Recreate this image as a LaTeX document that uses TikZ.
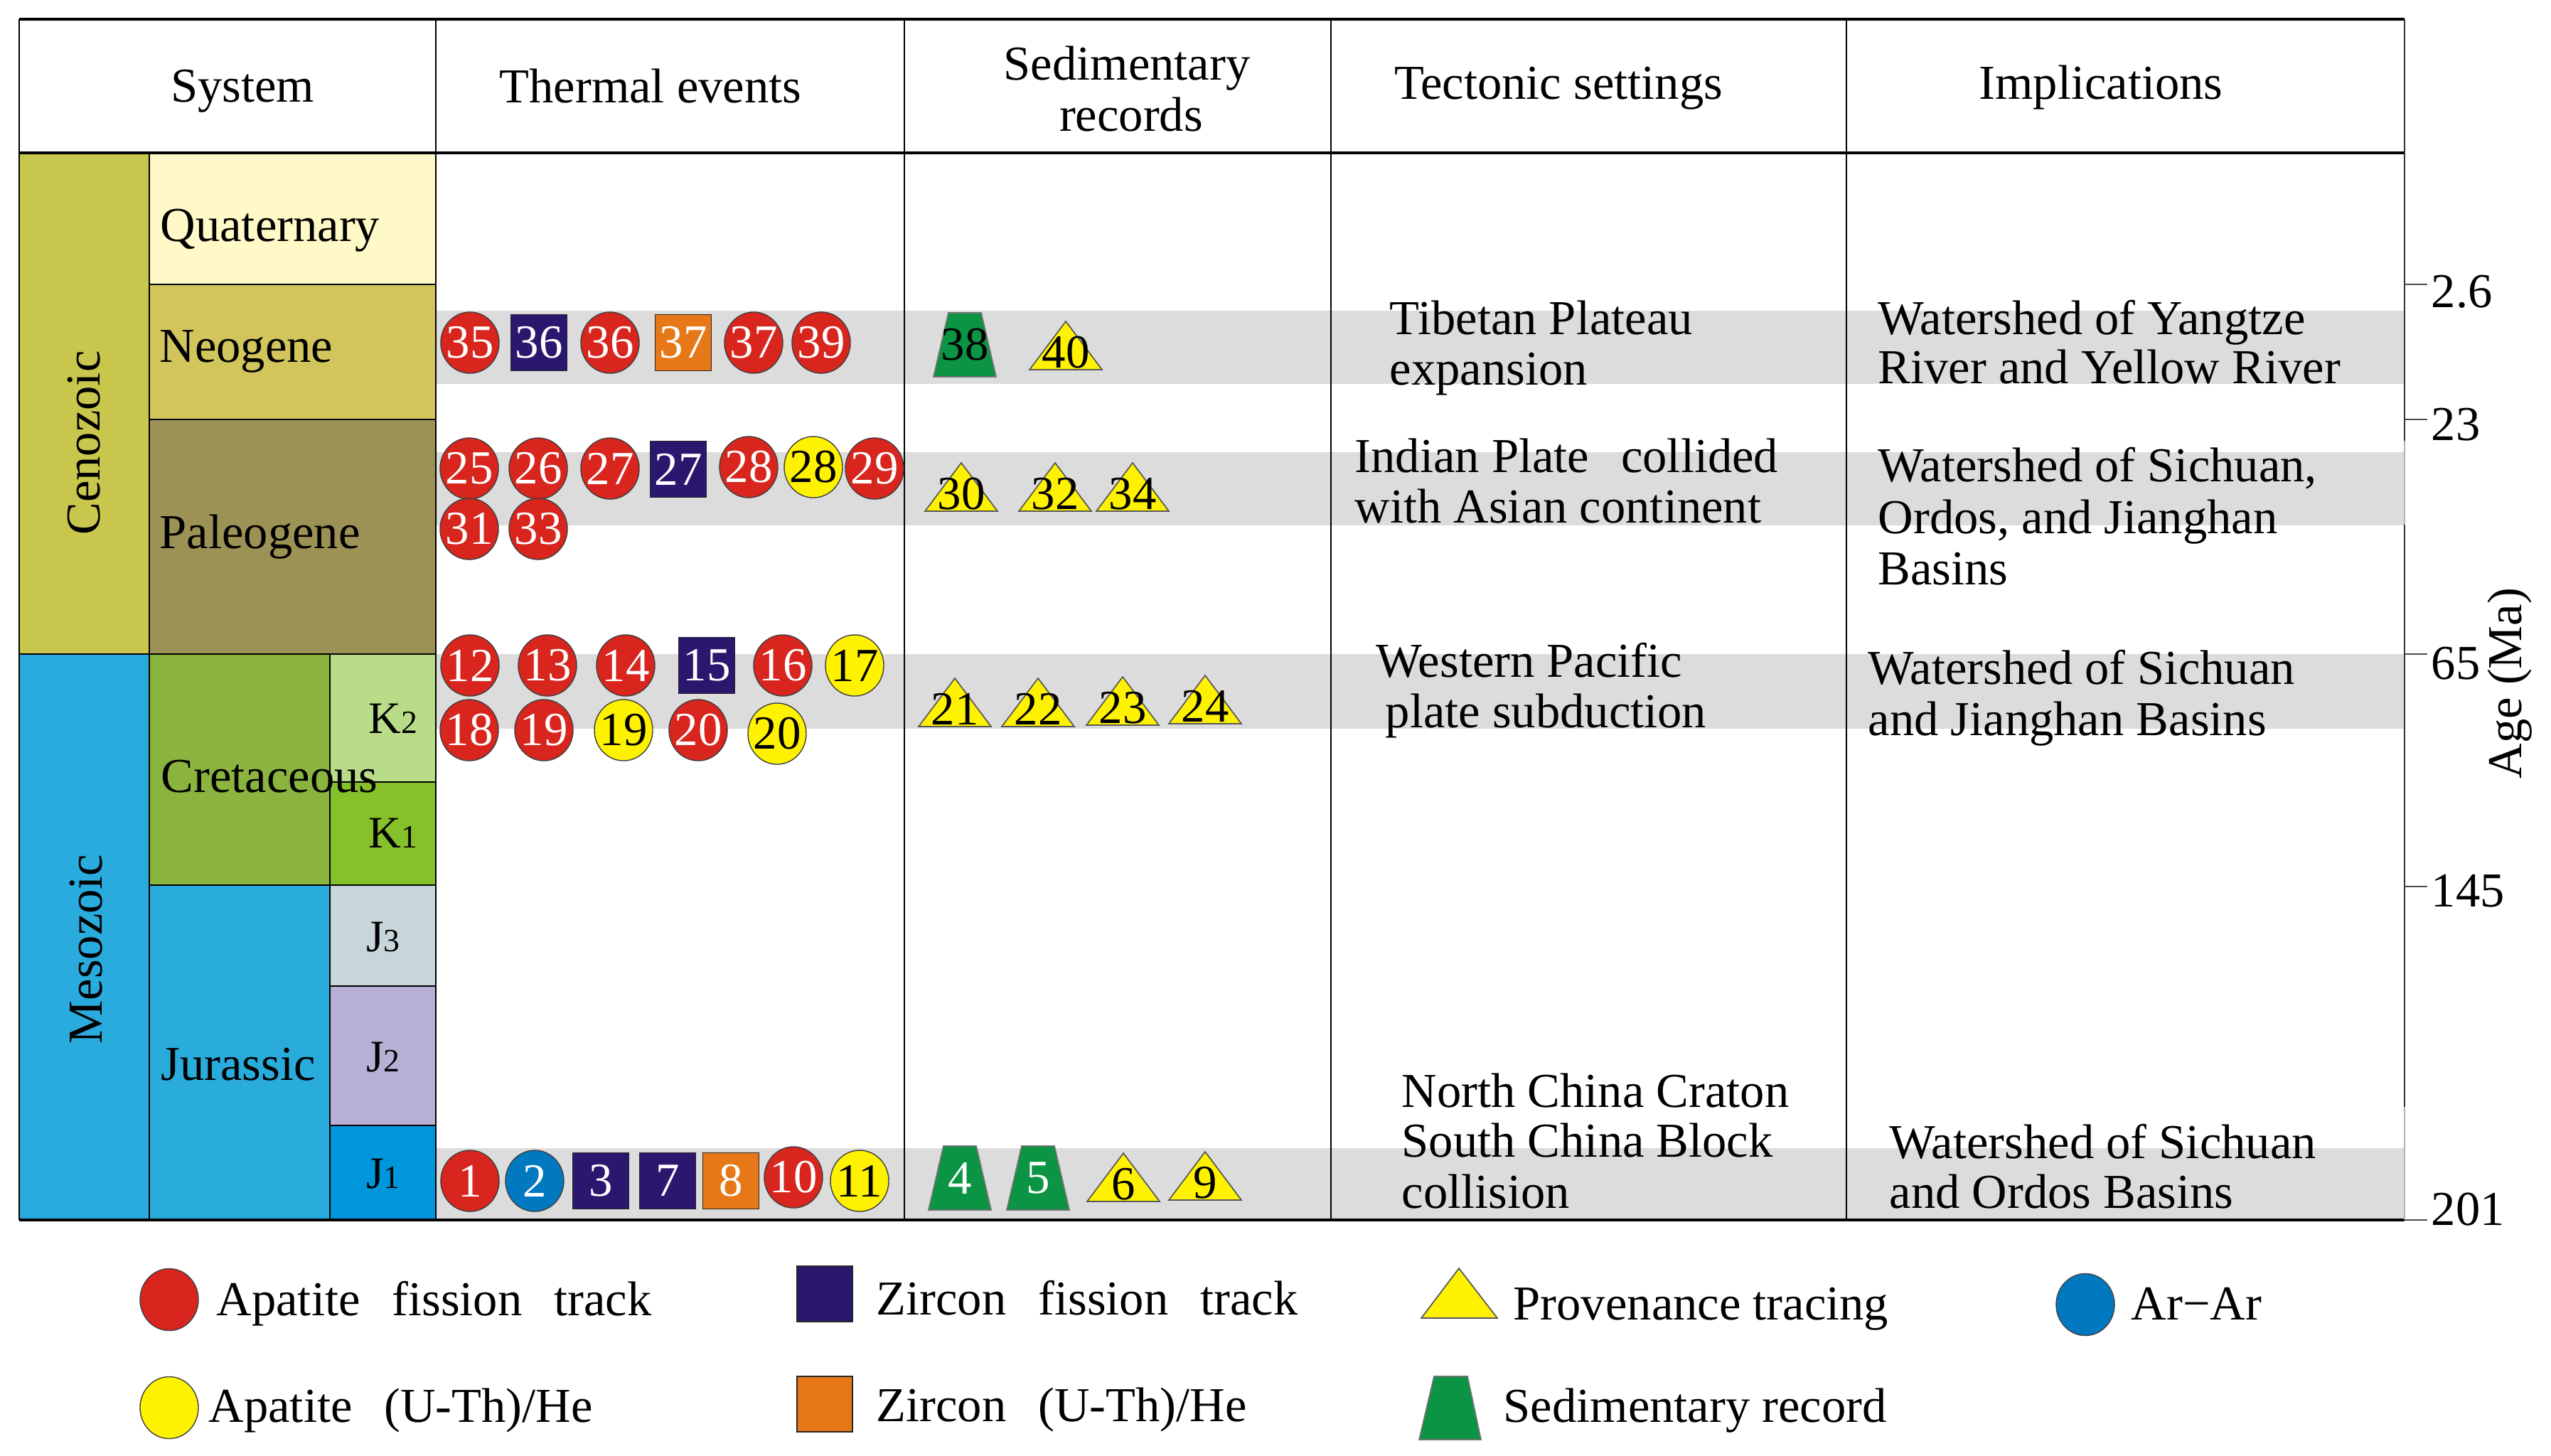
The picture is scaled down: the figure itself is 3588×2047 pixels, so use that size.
\documentclass[tikz,border=0pt]{standalone}
\usepackage{fontspec}
\setmainfont{Liberation Serif}
\usetikzlibrary{shapes.geometric}
\definecolor{ccen}{HTML}{C9C64E}
\definecolor{cqua}{HTML}{FEF9C6}
\definecolor{cneo}{HTML}{D2C55B}
\definecolor{cpal}{HTML}{9D9255}
\definecolor{cmes}{HTML}{2AABDD}
\definecolor{ccre}{HTML}{8BB43F}
\definecolor{ckb}{HTML}{B8DC88}
\definecolor{cka}{HTML}{86C02B}
\definecolor{cjur}{HTML}{29ACDC}
\definecolor{cjc}{HTML}{C6D6DA}
\definecolor{cjb}{HTML}{B7AFD4}
\definecolor{cja}{HTML}{0096DC}
\definecolor{cband}{HTML}{DCDCDC}
\definecolor{cred}{HTML}{D8251E}
\definecolor{cnavy}{HTML}{2B176E}
\definecolor{corange}{HTML}{E77817}
\definecolor{cyel}{HTML}{FFF200}
\definecolor{cblue}{HTML}{0079C1}
\definecolor{cgreen}{HTML}{0B9444}
\newcommand\fs{\fontsize{19.5pt}{20.2pt}\selectfont}
\newcommand\nfs{\fontsize{19pt}{19pt}\selectfont}
\newcommand\kfs{\fontsize{18pt}{18pt}\selectfont}
\newcommand\sfsub{\fontsize{13pt}{13pt}\selectfont}
\newcommand\mb[1]{\makebox[0pt]{#1}}
\newcommand\dsp{\hspace{0.45cm}}
\newcommand\provtri[4]{%
  \draw[provstyle] (#2-51,#3) -- (#2,#3-68) -- (#2+51,#3) -- cycle;
  \node[anchor=base, font=\nfs] (#1) at (#2,#3-3) {#4};}
\newcommand\sedtrap[6]{%
  \draw[sedstyle] (#2-23,#3) -- (#2+23,#3) -- (#2+44,#4) -- (#2-44,#4) -- cycle;
  \node[font=\nfs, text=#6] (#1) at (#2,{(#3+#4)/2}) {#5};}
\begin{document}
\begin{tikzpicture}[x=0.01cm,y=-0.01cm,
  every node/.style={inner sep=0pt, font=\fs},
  aft/.style={ellipse, fill=cred, draw=black!75, line width=0.4pt,
    minimum width=0.82cm, minimum height=0.86cm, text=white, font=\nfs},
  ahe/.style={aft, fill=cyel, text=black},
  arar/.style={aft, fill=cblue},
  zft/.style={rectangle, fill=cnavy, draw=black!85, line width=0.5pt,
    minimum size=0.79cm, text=white, font=\nfs},
  zhe/.style={zft, fill=corange},
  provstyle/.style={fill=cyel, draw=black!65, line width=0.5pt, line join=miter},
  sedstyle/.style={fill=cgreen, draw=black!55, line width=0.5pt},
  grid/.style={line width=0.6pt, black},
  thick grid/.style={line width=1.1pt, black},
  lbl/.style={anchor=base west},
  tick/.style={line width=0.6pt, black!70}]
\fill[white] (0,0) rectangle (3588,2047);
\useasboundingbox (0,0) rectangle (3588,2047);
% ---- left column fills
\fill[ccen] (27,215) rectangle (210,920);
\fill[cmes] (27,920) rectangle (210,1716);
\fill[cqua] (210,215) rectangle (613,400);
\fill[cneo] (210,400) rectangle (613,590);
\fill[cpal] (210,590) rectangle (613,920);
\fill[ccre] (210,920) rectangle (464,1245);
\fill[cjur] (210,1245) rectangle (464,1716);
\fill[ckb] (464,920) rectangle (613,1100);
\fill[cka] (464,1100) rectangle (613,1245);
\fill[cjc] (464,1245) rectangle (613,1387);
\fill[cjb] (464,1387) rectangle (613,1583);
\fill[cja] (464,1583) rectangle (613,1716);
% ---- gray bands
\fill[cband] (613,437) rectangle (3382,540);
\fill[cband] (613,636) rectangle (3382,739);
\fill[cband] (613,920) rectangle (3382,1025);
\fill[cband] (613,1615) rectangle (3382,1716);
% ---- grid lines
\draw[thick grid] (27,27) -- (3382,27);
\draw[thick grid] (27,215) -- (3382,215);
\draw[thick grid] (27,1716) -- (3382,1716);
\draw[grid] (27,27) -- (27,1716);
\draw[grid] (613,27) -- (613,1716);
\draw[grid] (1272,27) -- (1272,1716);
\draw[grid] (1872,27) -- (1872,1716);
\draw[grid] (2597,27) -- (2597,1716);
\draw[grid, black!80] (3382,27) -- (3382,620);
\draw[grid, black!30] (3382,620) -- (3382,738);
\draw[grid, black!80] (3382,738) -- (3382,1557);
\draw[grid, black!30] (3382,1557) -- (3382,1716);
\draw[grid] (210,215) -- (210,1716);
\draw[grid] (27,920) -- (613,920);
\draw[grid] (210,400) -- (613,400);
\draw[grid] (210,590) -- (613,590);
\draw[grid] (210,1245) -- (613,1245);
\draw[grid] (464,920) -- (464,1716);
\draw[grid] (464,1100) -- (613,1100);
\draw[grid] (464,1387) -- (613,1387);
\draw[grid] (464,1583) -- (613,1583);
% ---- axis ticks and labels
\foreach \ty/\tb/\tl [count=\i] in {400/432/2.6, 590/619/23, 920/955/65, 1247/1275/145, 1716/1723/201}{
  \draw[tick] (3382,\ty) -- (3414,\ty);
  \node[lbl] (age\i) at (3419,\tb) {\tl};
}
\node[rotate=90] (agetitle) at (3530,961) {Age (Ma)};
% ---- headers
\node[anchor=base] (hsys) at (341,143) {System};
\node[anchor=base] (hthe) at (915,144) {Thermal events};
\node[anchor=base] (hsed1) at (1585,112) {Sedimentary};
\node[anchor=base] (hsed2) at (1591,184) {records};
\node[anchor=base] (htec) at (2192,139) {Tectonic settings};
\node[anchor=base] (himp) at (2955,139) {Implications};
% ---- stratigraphy labels
\node[rotate=90] (ceno) at (118,623) {Cenozoic};
\node[rotate=90] (meso) at (121,1335) {Mesozoic};
\node[lbl] (quat) at (225,339) {Quaternary};
\node[lbl] (neog) at (224,509) {Neogene};
\node[lbl] (paleo) at (224,771) {Paleogene};
\node[lbl] (creta) at (226,1114) {Cretaceous};
\node[lbl] (jura) at (226,1519) {Jurassic};
\node[anchor=base, font=\kfs] (k2) at (553,1031) {K{\sfsub 2}};
\node[anchor=base, font=\kfs] (k1) at (553,1192) {K{\sfsub 1}};
\node[anchor=base, font=\kfs] (j3) at (539,1338) {J{\sfsub 3}};
\node[anchor=base, font=\kfs] (j2) at (539,1507) {J{\sfsub 2}};
\node[anchor=base, font=\kfs] (j1) at (539,1671) {J{\sfsub 1}};
% ---- tectonic settings
\node[lbl] (tt1a) at (1954,470) {Tibetan Plateau};
\node[lbl] (tt1b) at (1954,541) {expansion};
\node[lbl] (tt2a) at (1905,664) {Indian Plate\dsp collided};
\node[lbl] (tt2b) at (1905,735) {with Asian continent};
\node[lbl] (tt3a) at (1935,952) {Western Pacific};
\node[lbl] (tt3b) at (1948,1023) {plate subduction};
\node[lbl] (tt4a) at (1971,1557) {North China Craton};
\node[lbl] (tt4b) at (1971,1627) {South China Block};
\node[lbl] (tt4c) at (1971,1699) {collision};
% ---- implications
\node[lbl] (im1a) at (2641,470) {Watershed of Yangtze};
\node[lbl] (im1b) at (2641,539) {River and Yellow River};
\node[lbl] (im2a) at (2641,677) {Watershed of Sichuan,};
\node[lbl] (im2b) at (2641,750) {Ordos, and Jianghan};
\node[lbl] (im2c) at (2641,822) {Basins};
\node[lbl] (im3a) at (2627,962) {Watershed of Sichuan};
\node[lbl] (im3b) at (2627,1034) {and Jianghan Basins};
\node[lbl] (im4a) at (2657,1629) {Watershed of Sichuan};
\node[lbl] (im4b) at (2657,1699) {and Ordos Basins};
% ---- thermal events: Neogene
\node[aft] (n35) at (661,482) {\mb{35}};
\node[zft] (nz36) at (758,482) {36};
\node[aft] (n36) at (858,482) {\mb{36}};
\node[zhe] (nh37) at (961,482) {37};
\node[aft] (n37) at (1060,482) {\mb{37}};
\node[aft] (n39) at (1155,482) {\mb{39}};
% Paleogene
\node[aft] (p25) at (660,659) {\mb{25}};
\node[aft] (p26) at (757,659) {\mb{26}};
\node[aft] (p27) at (858,659) {\mb{27}};
\node[zft] (pz27) at (954,660) {27};
\node[aft] (p28) at (1053,657) {\mb{28}};
\node[ahe] (py28) at (1144,657) {\mb{28}};
\node[aft] (p29) at (1230,659) {\mb{29}};
\node[aft] (p31) at (660,744) {\mb{31}};
\node[aft] (p33) at (757,744) {\mb{33}};
% Cretaceous
\node[aft] (c12) at (661,936) {\mb{12}};
\node[aft] (c13) at (770,936) {\mb{13}};
\node[aft] (c14) at (880,936) {\mb{14}};
\node[zft] (cz15) at (994,936) {15};
\node[aft] (c16) at (1101,936) {\mb{16}};
\node[ahe] (cy17) at (1202,936) {\mb{17}};
\node[aft] (c18) at (660,1027) {\mb{18}};
\node[aft] (c19) at (765,1027) {\mb{19}};
\node[ahe] (cy19) at (877,1027) {\mb{19}};
\node[aft] (c20) at (982,1027) {\mb{20}};
\node[ahe] (cy20) at (1093,1032) {\mb{20}};
% Jurassic
\node[aft] (j01) at (661,1661) {\mb{1}};
\node[arar] (j02) at (752,1661) {\mb{2}};
\node[zft] (j03) at (845,1661) {3};
\node[zft] (j07) at (939,1661) {7};
\node[zhe] (j08) at (1028,1661) {8};
\node[aft] (j10) at (1116,1656) {\mb{10}};
\node[ahe] (j11) at (1209,1661) {\mb{11}};
% ---- sedimentary records
\sedtrap{s38}{1357}{440}{530}{38}{black}
\provtri{s40}{1499}{520}{40}
\provtri{s30}{1352}{719}{30}
\provtri{s32}{1484}{719}{32}
\provtri{s34}{1593}{719}{34}
\provtri{s21}{1343}{1022}{21}
\provtri{s22}{1460}{1022}{22}
\provtri{s23}{1579}{1020}{23}
\provtri{s24}{1695}{1018}{24}
\sedtrap{s04}{1350}{1612}{1702}{4}{white}
\sedtrap{s05}{1460}{1612}{1702}{5}{white}
\provtri{s06}{1580}{1690}{6}
\provtri{s09}{1695}{1688}{9}
% ---- legend
\node[aft, minimum width=0.82cm, minimum height=0.87cm] (lgaft) at (238,1828) {};
\node[lbl] (lgafttxt) at (304,1850) {Apatite\dsp fission\dsp track};
\node[ahe, minimum width=0.82cm, minimum height=0.87cm] (lgahe) at (238,1980) {};
\node[lbl] (lgahetxt) at (293,2000) {Apatite\dsp (U-Th)/He};
\node[zft, minimum size=0.78cm] (lgzft) at (1160,1820) {};
\node[lbl] (lgzfttxt) at (1232,1849) {Zircon\dsp fission\dsp track};
\node[zhe, minimum size=0.78cm] (lgzhe) at (1160,1975) {};
\node[lbl] (lgzhetxt) at (1232,1999) {Zircon\dsp (U-Th)/He};
\draw[provstyle] (1999,1854) -- (2052,1784) -- (2106,1854) -- cycle;
\node[lbl] (lgprov) at (2128,1856) {Provenance tracing};
\draw[sedstyle] (2017,1936) -- (2064,1936) -- (2083,2025) -- (1996,2025) -- cycle;
\node[lbl] (lgsed) at (2114,2000) {Sedimentary record};
\node[arar, minimum width=0.82cm, minimum height=0.87cm] (lgarar) at (2933,1835) {};
\node[lbl] (lgarartxt) at (2997,1856) {Ar−Ar};
\end{tikzpicture}
\end{document}
